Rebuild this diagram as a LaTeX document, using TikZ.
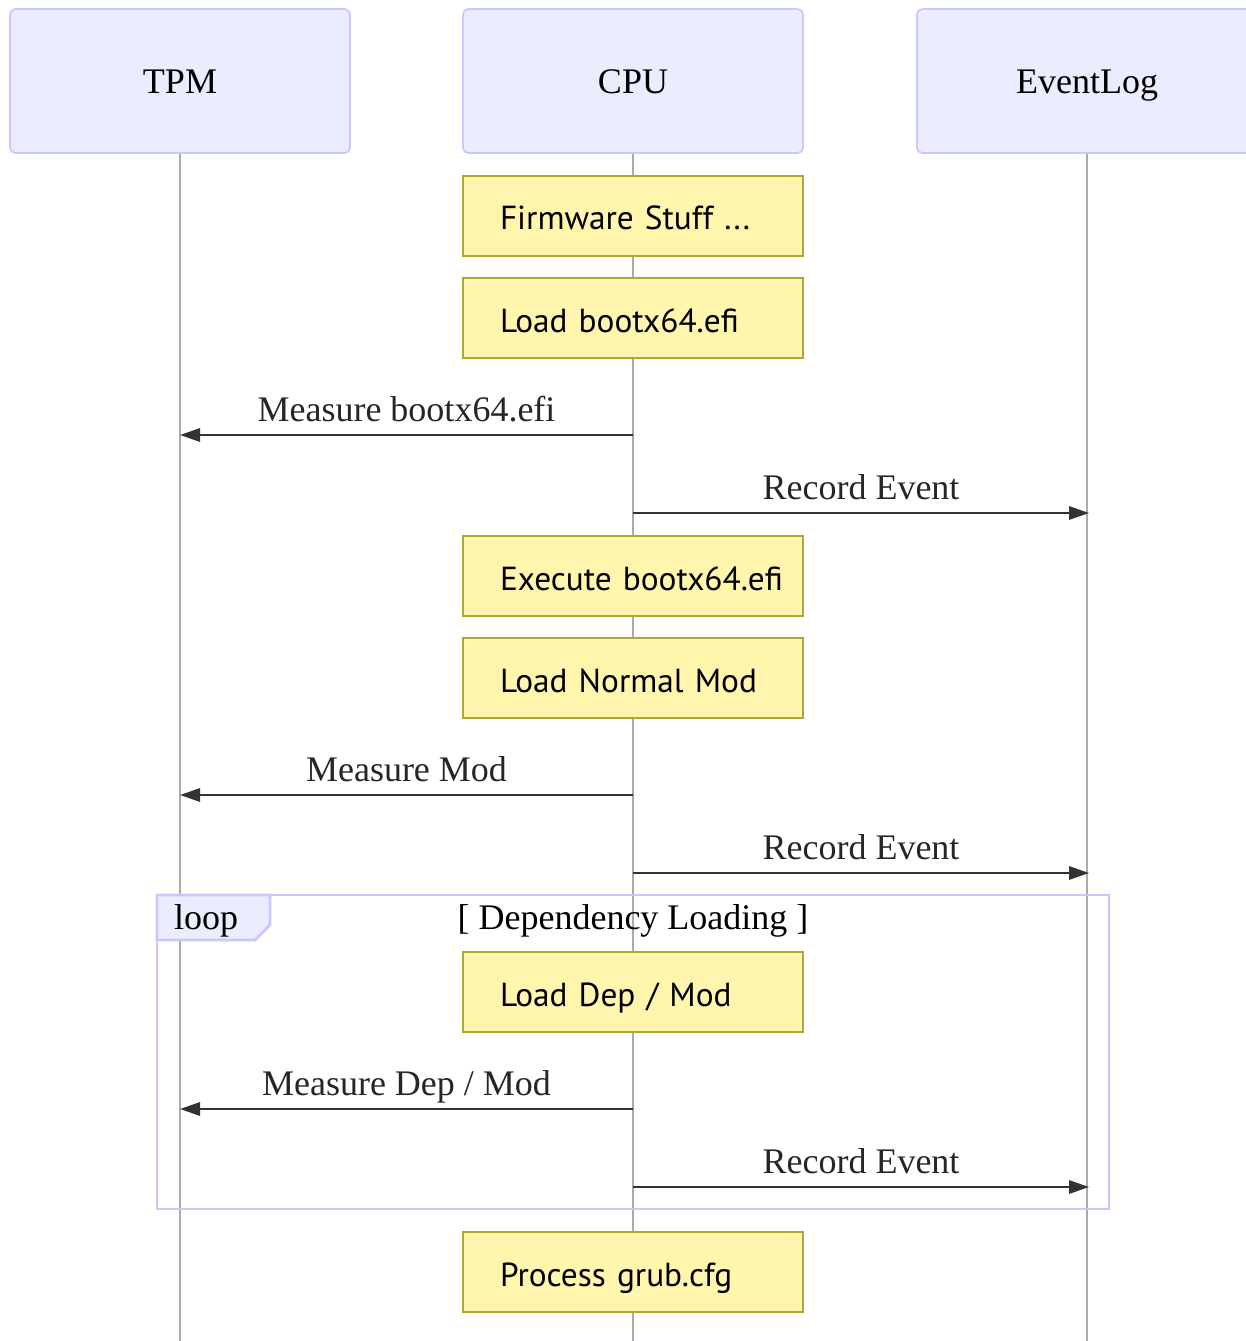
\documentclass[tikz,border=0pt]{standalone}
\usepackage{fontspec}
\setmainfont{Liberation Serif}
\newfontfamily\notefont{PT Sans}
\usetikzlibrary{arrows.meta}
\definecolor{actfill}{HTML}{ECECFF}
\definecolor{actdraw}{HTML}{C8C8FF}
\definecolor{notefill}{HTML}{FFF5AD}
\definecolor{notedraw}{HTML}{AAAA33}
\definecolor{lifegray}{HTML}{AAAAAA}
\definecolor{msgcol}{HTML}{333333}
\tikzset{
  actor/.style={draw=actdraw, fill=actfill, line width=1.3pt, rounded corners=4pt,
    minimum width=255pt, minimum height=108pt, inner sep=0pt, text height=25pt, text depth=5.5pt,
    font=\fontsize{27}{32}\selectfont, text=black},
  lifeline/.style={draw=lifegray, line width=0.8pt},
  notebox/.style={draw=notedraw, fill=notefill, line width=1.2pt, text width=199.5pt, align=left,
    inner xsep=27.75pt, inner ysep=0pt, minimum height=60pt, text height=24pt, text depth=3pt,
    font=\notefont\fontsize{25}{29}\selectfont},
  msgline/.style={draw=msgcol, line width=1.6pt, -{Triangle[length=15pt,width=10pt]}},
  lbl/.style={font=\fontsize{27}{32}\selectfont, text=black!85, inner sep=0pt, anchor=base, yshift=10.5pt},
  loopbox/.style={draw=actdraw, line width=2pt},
  looptext/.style={font=\fontsize{27}{32}\selectfont, inner sep=0pt, anchor=base},
}
\begin{document}
\begin{tikzpicture}[x=0.75pt,y=-0.75pt]
\useasboundingbox (0,0) rectangle (1245,1341);
% lifeline ends
\coordinate (tpmend) at (180,1341);
\coordinate (cpuend) at (633,1341);
\coordinate (logend) at (1087,1341);
% actors
\node[actor] (tpm) at (180,81) {TPM};
\node[actor] (cpu) at (633,81) {CPU};
\node[actor] (log) at (1087,81) {EventLog};
\draw[lifeline] (tpm.south) -- (tpmend);
\draw[lifeline] (cpu.south) -- (cpuend);
\draw[lifeline] (log.south) -- (logend);
% notes
\node[notebox] (n1) at (633,216) {\mbox{Firmware Stuff ...}};
\node[notebox] (n2) at (633,318) {\mbox{Load bootx64.efi}};
\node[notebox] (n3) at (633,576) {\mbox{Execute bootx64.efi}};
\node[notebox] (n4) at (633,678) {\mbox{Load Normal Mod}};
\node[notebox] (n5) at (633,992) {\mbox{Load Dep / Mod}};
\node[notebox] (n6) at (633,1272) {\mbox{Process grub.cfg}};
% messages
\coordinate (c1) at (633,435); \coordinate (t1) at (180,435);
\draw[msgline] (c1) -- (t1) node[lbl, midway] {Measure bootx64.efi};
\coordinate (c2) at (633,513); \coordinate (e2) at (1089,513);
\draw[msgline] (c2) -- (e2) node[lbl, midway] {Record Event};
\coordinate (c3) at (633,795); \coordinate (t3) at (180,795);
\draw[msgline] (c3) -- (t3) node[lbl, midway] {Measure Mod};
\coordinate (c4) at (633,873); \coordinate (e4) at (1089,873);
\draw[msgline] (c4) -- (e4) node[lbl, midway] {Record Event};
\coordinate (c5) at (633,1109); \coordinate (t5) at (180,1109);
\draw[msgline] (c5) -- (t5) node[lbl, midway] {Measure Dep / Mod};
\coordinate (c6) at (633,1187); \coordinate (e6) at (1089,1187);
\draw[msgline] (c6) -- (e6) node[lbl, midway] {Record Event};
% loop frame
\coordinate (lp1) at (157,895);
\coordinate (lp2) at (1109,1209);
\draw[loopbox, fill=actfill] (157,895) -- (270,895) -- (270,925) -- (255,940) -- (157,940) -- cycle;
\draw[loopbox] (lp1) rectangle (lp2);
\node[looptext] (looplbl) at (206,929) {loop};
\node[looptext] (looptitle) at (633,929) {[ Dependency Loading ]};
\end{tikzpicture}
\end{document}
